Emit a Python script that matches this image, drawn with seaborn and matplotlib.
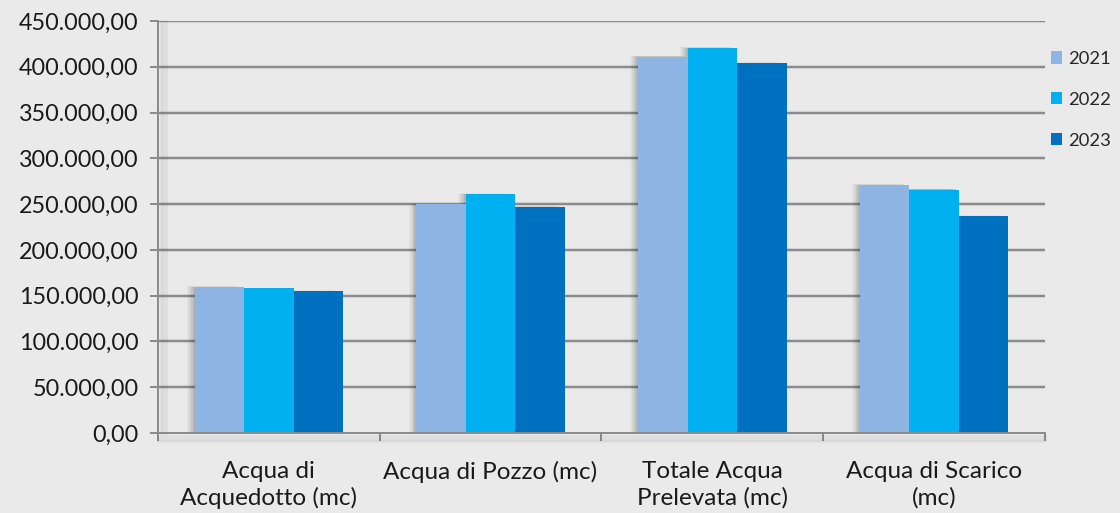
import matplotlib
matplotlib.use("Agg")
import matplotlib.pyplot as plt
import matplotlib.patheffects as pe
from matplotlib.patches import Rectangle
from matplotlib.ticker import FuncFormatter, FixedLocator
import numpy as np
import pandas as pd
import seaborn as sns

categorie = ["Acqua di\nAcquedotto (mc)", "Acqua di Pozzo (mc)",
             "Totale Acqua\nPrelevata (mc)", "Acqua di Scarico\n(mc)"]
anni = ["2021", "2022", "2023"]
valori_2021 = [159500, 250000, 411000, 271000]
valori_2022 = [158000, 260800, 420500, 265800]
valori_2023 = [155000, 246800, 404000, 236800]
colori = ["#8EB4E3", "#00B0F0", "#0070C0"]

df = pd.DataFrame({
    "categoria": categorie * 3,
    "anno": [a for a in anni for _ in categorie],
    "valore": valori_2021 + valori_2022 + valori_2023,
})

sns.set_theme(style="white")
plt.rcParams["font.family"] = ["Lato", "DejaVu Sans"]

bg = "#EAEAEA"
grid_col = "#8A8A8A"
fig = plt.figure(figsize=(11.2, 5.13), dpi=100, facecolor=bg)
ax = fig.add_axes([0.141, 0.156, 0.792, 0.803])
ax.set_facecolor(bg)

sns.barplot(data=df, x="categoria", y="valore", hue="anno", palette=colori,
            width=0.67, saturation=1, gap=0, ax=ax, legend=True,
            linewidth=0, zorder=3)

# soft drop shadow behind the bars, drawn beneath them
bars = list(ax.patches)
for p in bars:
    x0, y0 = p.get_xy()
    w, h = p.get_width(), p.get_height()
    for k, a in zip((0.035, 0.025, 0.016, 0.008), (0.05, 0.07, 0.09, 0.11)):
        ax.add_patch(Rectangle((x0 - k, y0), w, h + k * 25000,
                               facecolor="#303030", alpha=a, lw=0, zorder=2.5))

ax.set_ylim(0, 450000)
ax.set_xlim(-0.5, 3.5)
ax.yaxis.set_major_locator(FixedLocator(np.arange(0, 450001, 50000)))


def fmt_it(v, _):
    s = f"{v:,.2f}"
    return s.replace(",", "X").replace(".", ",").replace("X", ".")


ax.yaxis.set_major_formatter(FuncFormatter(fmt_it))

# gridlines with a faint shadow
for y in np.arange(50000, 450001, 50000):
    ax.axhline(y, color="#D2D2D2", lw=3.0, zorder=1)
    ax.axhline(y, color=grid_col, lw=1.4, zorder=2)

for s in ["top", "right"]:
    ax.spines[s].set_visible(False)
ax.spines["left"].set_color(grid_col)
ax.spines["left"].set_linewidth(1.4)
ax.spines["left"].set_path_effects(
    [pe.SimpleLineShadow(offset=(d, 0), shadow_color="#555555", alpha=0.08, linewidth=2)
     for d in (2, 4, 6)] + [pe.Normal()])
ax.spines["bottom"].set_color(grid_col)
ax.spines["bottom"].set_linewidth(1.4)
ax.spines["bottom"].set_path_effects(
    [pe.SimpleLineShadow(offset=(0, -d), shadow_color="#555555", alpha=0.08, linewidth=2)
     for d in (2, 4, 6)] + [pe.Normal()])
ax.spines["bottom"].set_zorder(4)

ax.tick_params(axis="y", which="major", left=True, length=6, width=1.4,
               color=grid_col, labelsize=16.8, labelcolor="#1a1a1a", pad=8)
ax.set_xticks(range(4))
ax.set_xticklabels(categorie)
ax.tick_params(axis="x", which="major", bottom=False, labelsize=17.5,
               labelcolor="#1a1a1a", pad=14)
ax.set_xticks([-0.5, 0.5, 1.5, 2.5, 3.5], minor=True)
ax.tick_params(axis="x", which="minor", bottom=True, length=6, width=1.4,
               color=grid_col)
for lab in ax.get_xticklabels():
    lab.set_linespacing(1.3)

ax.set_xlabel("")
ax.set_ylabel("")

leg = ax.legend(loc="upper left", bbox_to_anchor=(0.998, 0.945), frameon=False,
                fontsize=13.2, handlelength=0.65, handleheight=0.65,
                handletextpad=0.3, labelspacing=1.35, borderaxespad=0)

fig.savefig("out.png", dpi=100, facecolor=bg)
